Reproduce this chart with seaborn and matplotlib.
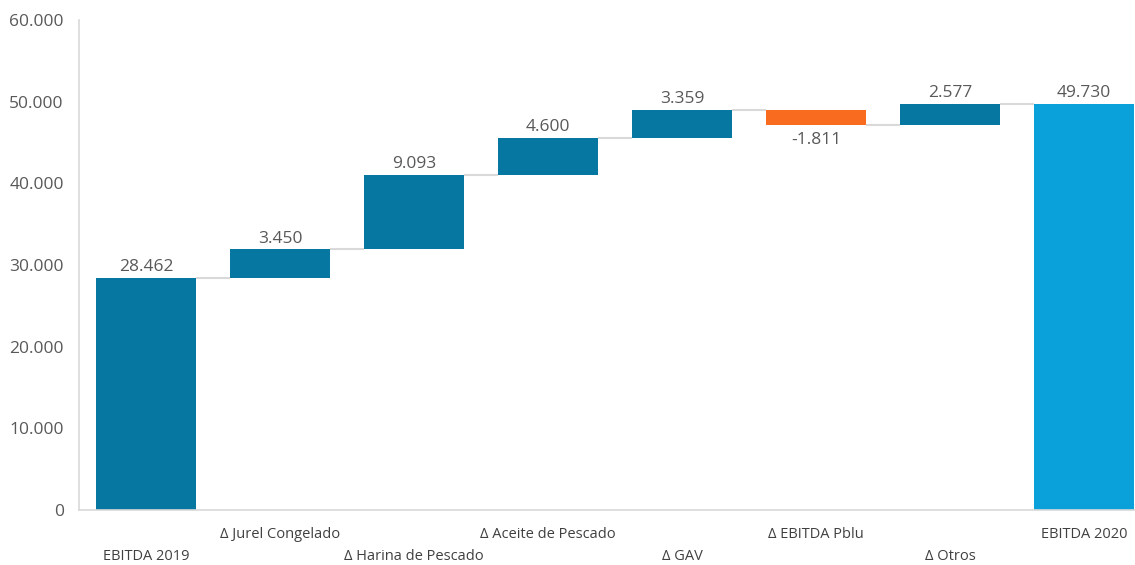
import matplotlib
matplotlib.use("Agg")
import matplotlib.pyplot as plt
import matplotlib.transforms as mtransforms
import seaborn as sns
import numpy as np

categories = ["EBITDA 2019", "Δ Jurel Congelado", "Δ Harina de Pescado", "Δ Aceite de Pescado",
              "Δ GAV", "Δ EBITDA Pblu", "Δ Otros", "EBITDA 2020"]
values = [28462, 3450, 9093, 4600, 3359, -1811, 2577, 49730]
kinds = ["total", "up", "up", "up", "up", "down", "up", "final"]
yticks = [0, 10000, 20000, 30000, 40000, 50000, 60000]

palette = {"total": "#0577A1", "up": "#0577A1", "down": "#F96B1E", "final": "#0AA1DA"}

# waterfall geometry
bottoms, heights, levels = [], [], []
run = 0
for v, k in zip(values, kinds):
    if k in ("total", "final"):
        bottoms.append(0); heights.append(v); run = v
    elif v >= 0:
        bottoms.append(run); heights.append(v); run += v
    else:
        bottoms.append(run + v); heights.append(-v); run += v
    levels.append(run)

sns.set_style("white")
plt.rcParams["font.family"] = ["Open Sans", "DejaVu Sans"]

fig = plt.figure(figsize=(11.35, 5.65), dpi=100)
ax = fig.add_axes([79/1135, 55/565, 1072/1135, 490/565])

sns.barplot(x=categories, y=heights, hue=kinds, palette=palette, dodge=False,
            width=0.74, legend=False, ax=ax, saturation=1, linewidth=0)

for p in ax.patches:
    i = int(round(p.get_x() + p.get_width() / 2))
    p.set_y(bottoms[i])

w = 0.74
for i in range(len(values) - 1):
    ax.plot([i + w/2, i + 1 - w/2], [levels[i], levels[i]], color="#D9D9D9", lw=1.5,
            solid_capstyle="butt", zorder=1)

def fmt(v):
    s = f"{abs(v):,}".replace(",", ".")
    return ("-" if v < 0 else "") + s

for i, (v, k) in enumerate(zip(values, kinds)):
    if k == "down":
        ax.annotate(fmt(v), (i, bottoms[i]), xytext=(0, -5), textcoords="offset points",
                    ha="center", va="top", fontsize=12.5, color="#595959")
    else:
        ax.annotate(fmt(v), (i, bottoms[i] + heights[i]), xytext=(0, 2), textcoords="offset points",
                    ha="center", va="bottom", fontsize=12.5, color="#595959")

ax.set_xlim(-0.5, 7.5)
ax.set_ylim(0, 60000)
ax.set_yticks(yticks)
ax.set_yticklabels([fmt(t) for t in yticks], fontsize=12.5, color="#595959")
ax.tick_params(axis="y", length=0, pad=11)
ax.set_xticks([])
trans = mtransforms.blended_transform_factory(ax.transData, ax.transAxes)
for i, c in enumerate(categories):
    yoff = -25 if i % 2 == 1 else -47
    ax.annotate(c, (i, 0), xycoords=trans, xytext=(0, yoff * 0.72), textcoords="offset points",
                ha="center", va="center", fontsize=10.5, color="#404040")

for s in ["top", "right"]:
    ax.spines[s].set_visible(False)
ax.spines["left"].set_color("#D9D9D9")
ax.spines["bottom"].set_color("#D9D9D9")
ax.spines["left"].set_linewidth(1.2)
ax.spines["bottom"].set_linewidth(1.2)

fig.savefig("out.png", dpi=100)
